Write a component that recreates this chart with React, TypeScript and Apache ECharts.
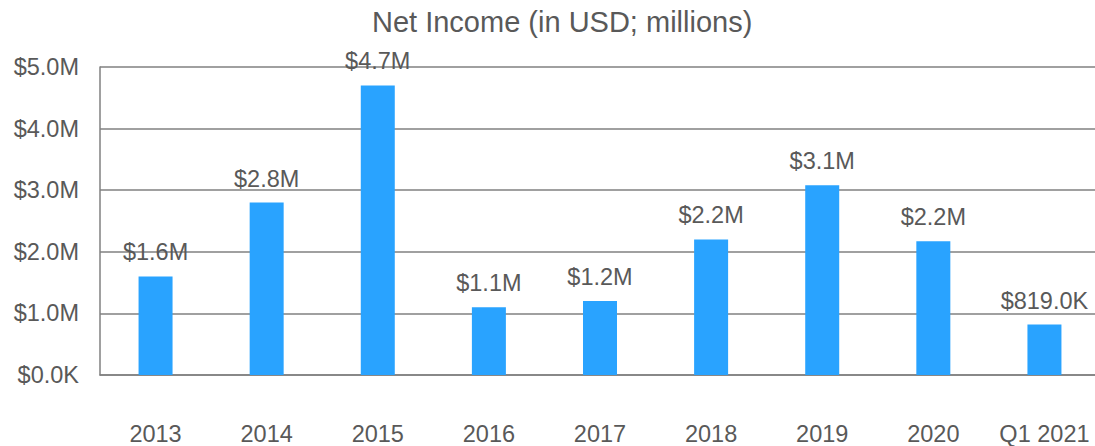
import React, { useEffect, useRef } from "react";
import * as echarts from "echarts";

const categories = ["2013", "2014", "2015", "2016", "2017", "2018", "2019", "2020", "Q1 2021"];
const netIncome = [1.6, 2.8, 4.7, 1.1, 1.2, 2.2, 3.08, 2.17, 0.819];
const yTicks = ["$0.0K", "$1.0M", "$2.0M", "$3.0M", "$4.0M", "$5.0M"];

function fmt(v: number): string {
  if (v >= 1) return "$" + v.toFixed(1) + "M";
  return "$" + (v * 1000).toFixed(1) + "K";
}

export default function App() {
  const ref = useRef<HTMLDivElement>(null);
  useEffect(() => {
    document.body.style.margin = "0";
    document.body.style.overflow = "hidden";
    const chart = echarts.init(ref.current!, null, { renderer: "svg" });
    const font = "'Liberation Sans', Arial, sans-serif";
    chart.setOption({
      animation: false,
      textStyle: { fontFamily: font },
      title: {
        text: "Net Income (in USD; millions)",
        left: 372,
        top: 7,
        padding: 0,
        textStyle: { fontFamily: font, fontSize: 29, fontWeight: "normal", color: "#595959" },
      },
      grid: { left: 100, right: 0, top: 67, bottom: 70, containLabel: false },
      xAxis: {
        type: "category",
        data: categories,
        axisLine: { lineStyle: { color: "#808080", width: 1.5 } },
        axisTick: { show: false },
        axisLabel: { color: "#595959", fontSize: 23.5, margin: 47, fontFamily: font, interval: 0, hideOverlap: false },
      },
      yAxis: {
        type: "value",
        min: 0,
        max: 5,
        interval: 1,
        axisLine: { show: true, lineStyle: { color: "#808080", width: 1.5 } },
        axisTick: { show: false },
        splitLine: { lineStyle: { color: "#808080", width: 1.5 } },
        axisLabel: {
          color: "#595959",
          fontSize: 23.5,
          margin: 21,
          fontFamily: font,
          formatter: (v: number) => yTicks[Math.round(v)],
        },
      },
      series: [
        {
          type: "bar",
          data: netIncome,
          barWidth: 34,
          itemStyle: { color: "#29A3FF" },
          label: {
            show: true,
            position: "top",
            distance: 12,
            color: "#595959",
            fontSize: 23.5,
            fontFamily: font,
            formatter: (p: any) => fmt(p.value),
          },
        },
      ],
    });
    return () => chart.dispose();
  }, []);
  return <div ref={ref} style={{ width: 1100, height: 446 }} />;
}
